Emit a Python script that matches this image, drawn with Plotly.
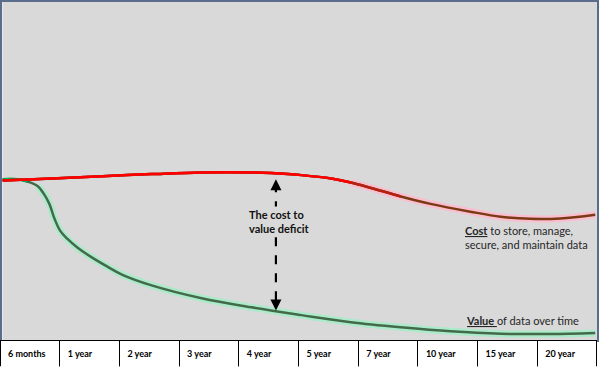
import plotly.graph_objects as go

# Timeline columns (table labels)
periods = ["6 months", "1 year", "2 year", "3 year", "4 year",
           "5 year", "7 year", "10 year", "15 year", "20 year"]

# Cost curve (x in timeline-column units, y in relative level 0-100)
cost_x = [0.0, 0.84, 1.68, 2.51, 3.35, 4.19, 4.52, 5.03, 5.53, 5.86, 6.2, 6.7, 7.2, 7.87, 8.38, 8.88, 9.38, 9.97]
cost_y = [47.2, 47.8, 48.5, 49.1, 49.6, 49.6, 49.4, 48.8, 47.8, 46.6, 45.0, 42.5, 40.3, 38.0, 36.5, 35.9, 36.0, 37.1]

# Value curve
value_x = [0.0, 0.25, 0.42, 0.59, 0.70, 0.79, 0.87, 0.97, 1.09, 1.26, 1.51, 1.76, 2.01, 2.51, 3.35, 4.19, 5.03, 5.86, 6.7, 7.54, 8.38, 9.21, 9.97]
value_y = [47.6, 47.6, 46.9, 45.6, 43.2, 40.3, 36.2, 32.4, 30.0, 27.4, 24.4, 21.8, 19.4, 16.2, 12.4, 9.7, 7.4, 5.3, 3.8, 2.6, 1.9, 1.8, 2.1]

# Deficit arrow
deficit_x = 4.6
deficit_top = 47.6
deficit_bottom = 8.8

fig = go.Figure()

# halos
fig.add_trace(go.Scatter(x=value_x[3:], y=value_y[3:], mode="lines",
                         line=dict(color="rgba(165,235,200,0.9)", width=7, shape="spline"),
                         hoverinfo="skip", showlegend=False))
fig.add_trace(go.Scatter(x=cost_x[9:], y=cost_y[9:], mode="lines",
                         line=dict(color="rgba(255,185,205,0.9)", width=7, shape="spline"),
                         hoverinfo="skip", showlegend=False))

# value line: dark green body, bright green start
fig.add_trace(go.Scatter(x=value_x, y=value_y, mode="lines",
                         line=dict(color="#436b4a", width=2.5, shape="spline"),
                         hoverinfo="skip", showlegend=False))
fig.add_trace(go.Scatter(x=value_x[:3], y=value_y[:3], mode="lines",
                         line=dict(color="#00b050", width=2.5, shape="spline"),
                         hoverinfo="skip", showlegend=False))

# cost line: brown tail, red head, with an intermediate segment
fig.add_trace(go.Scatter(x=cost_x, y=cost_y, mode="lines",
                         line=dict(color="#7a3a14", width=2.5, shape="spline"),
                         hoverinfo="skip", showlegend=False))
fig.add_trace(go.Scatter(x=cost_x[:12], y=cost_y[:12], mode="lines",
                         line=dict(color="#b52212", width=2.5, shape="spline"),
                         hoverinfo="skip", showlegend=False))
fig.add_trace(go.Scatter(x=cost_x[:10], y=cost_y[:10], mode="lines",
                         line=dict(color="#ff0000", width=2.5, shape="spline"),
                         hoverinfo="skip", showlegend=False))

# table row of periods
fig.add_trace(go.Table(
    domain=dict(x=[0, 0.995], y=[0, 27 / 367]),
    header=dict(values=["<b>%s</b>" % p for p in periods],
                height=26, fill_color="white", align="left",
                line=dict(color="black", width=1),
                font=dict(family="Lato, Arial", size=9, color="black")),
    cells=dict(values=[[] for _ in periods])
))

# dashed deficit line
fig.add_shape(type="line", x0=deficit_x, x1=deficit_x, y0=deficit_bottom + 3, y1=deficit_top - 3,
              xref="x", yref="y", line=dict(color="black", width=2.2, dash="dash"), layer="above")
fig.add_annotation(x=deficit_x, y=deficit_top, xref="x", yref="y", text="", showarrow=True,
                   ax=0, ay=12, arrowhead=2, arrowsize=1, arrowwidth=2.2, arrowcolor="black", standoff=0)
fig.add_annotation(x=deficit_x, y=deficit_bottom, xref="x", yref="y", text="", showarrow=True,
                   ax=0, ay=-12, arrowhead=2, arrowsize=1, arrowwidth=2.2, arrowcolor="black", standoff=0)
fig.add_annotation(x=deficit_x + 0.05, y=35.1, xref="x", yref="y",
                   text="<b>The cost to<br>value deficit</b>", showarrow=False,
                   bgcolor="#d9d9d9", align="left",
                   font=dict(family="Lato, Arial", size=11, color="#111111"))

fig.add_annotation(x=7.74, y=30.4, xref="x", yref="y", xanchor="left",
                   text="<u><b>Cost</b></u> to store, manage,<br>secure, and maintain data",
                   showarrow=False, align="left",
                   font=dict(family="Lato, Arial", size=11, color="#262626"))
fig.add_annotation(x=7.76, y=5.9, xref="x", yref="y", xanchor="left",
                   text="<u><b>Value </b></u>of data over time",
                   showarrow=False, align="left",
                   font=dict(family="Lato, Arial", size=11, color="#262626"))

fig.update_xaxes(domain=[0.004, 0.995], range=[0, 10], showgrid=False, zeroline=False,
                 showticklabels=False, ticks="", showline=True, mirror=True,
                 linecolor="#5a6e8c", linewidth=1.5)
fig.update_yaxes(domain=[27 / 367, 1], range=[0, 100], showgrid=False, zeroline=False,
                 showticklabels=False, ticks="", showline=True, mirror=True,
                 linecolor="#5a6e8c", linewidth=1.5)

fig.update_layout(width=600, height=367, margin=dict(l=0, r=0, t=0, b=0),
                  paper_bgcolor="white", plot_bgcolor="#d9d9d9", showlegend=False)

fig.write_html("out.html", config={"displayModeBar": False},
               post_script="document.body.style.margin='0';document.body.style.overflow='hidden';")
